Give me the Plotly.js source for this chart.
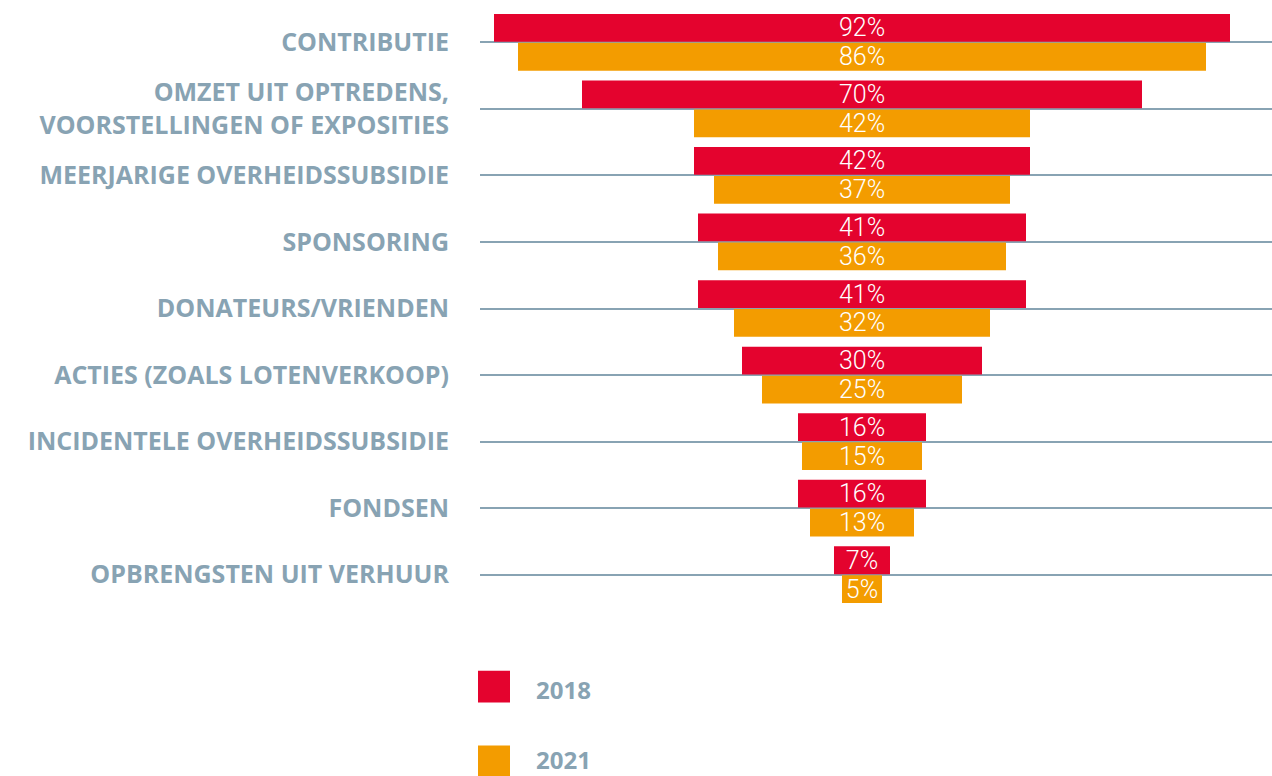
<!DOCTYPE html>
<html>
<head>
<meta charset="utf-8">
<script src="https://cdn.plot.ly/plotly-3.0.1.min.js"></script>
<style>html,body{margin:0;padding:0;background:#fff;}#chart{width:1272px;height:776px;}</style>
</head>
<body>
<div id="chart"></div>
<script>
const categories = [
  "CONTRIBUTIE",
  "OMZET UIT OPTREDENS,<br>VOORSTELLINGEN OF EXPOSITIES",
  "MEERJARIGE OVERHEIDSSUBSIDIE",
  "SPONSORING",
  "DONATEURS/VRIENDEN",
  "ACTIES (ZOALS LOTENVERKOOP)",
  "INCIDENTELE OVERHEIDSSUBSIDIE",
  "FONDSEN",
  "OPBRENGSTEN UIT VERHUUR"
];
const seriesNames = ["2018", "2021"];
const values2018 = [92, 70, 42, 41, 41, 30, 16, 16, 7];
const values2021 = [86, 42, 37, 36, 32, 25, 15, 13, 5];

const colors = ["#E4032E", "#F39C00"];
const grey = "#88A3B3";
const pctFont = {family: "Roboto, sans-serif", size: 25, color: "#ffffff", weight: 300};
const labelFont = {family: "Open Sans, sans-serif", size: 25, color: grey, weight: "bold"};

function makeTrace(vals, name, color) {
  return {
    type: "bar",
    orientation: "h",
    name: name,
    y: categories,
    x: vals,
    base: vals.map(v => -v / 2),
    text: vals.map(v => v + "%"),
    textposition: "inside",
    insidetextanchor: "middle",
    textangle: 0,
    constraintext: "none",
    textfont: pctFont,
    marker: {color: color, line: {width: 0}},
    hoverinfo: "skip",
    showlegend: false
  };
}

const traces = [
  makeTrace(values2018, seriesNames[0], colors[0]),
  makeTrace(values2021, seriesNames[1], colors[1])
];

const plotTop = 8.7, plotBottom = 608.3, plotH = plotBottom - plotTop;
const plotLeft = 480, plotW = 792;
function px(x) { return (x - plotLeft) / plotW; }
function py(y) { return (plotBottom - y) / plotH; }

const legendBoxes = [[671, 703], [746, 778]];
const legendTextY = [690, 760];
const shapes = legendBoxes.map((b, i) => ({
  type: "rect", xref: "paper", yref: "paper",
  x0: px(478), x1: px(510), y0: py(b[1]), y1: py(b[0]),
  fillcolor: colors[i], line: {width: 0}
}));
const annotations = legendBoxes.map((b, i) => ({
  xref: "paper", yref: "paper", x: px(534), y: py(legendTextY[i]),
  xanchor: "left", yanchor: "middle", showarrow: false,
  text: seriesNames[i],
  font: {family: "Open Sans, sans-serif", size: 24, color: grey, weight: "bold"}
}));

const layout = {
  width: 1272, height: 776,
  margin: {l: plotLeft, r: 0, t: plotTop, b: 776 - plotBottom, pad: 0},
  paper_bgcolor: "#ffffff", plot_bgcolor: "#ffffff",
  barmode: "group",
  bargap: 0.13,
  bargroupgap: 0.04,
  showlegend: false,
  xaxis: {range: [-47.75, 51.25], showgrid: false, zeroline: false, showticklabels: false, showline: false, fixedrange: true},
  yaxis: {
    type: "category", autorange: "reversed",
    showgrid: true, gridcolor: grey, gridwidth: 2,
    zeroline: false, showline: false, ticks: "",
    ticklabelstandoff: 30,
    tickfont: labelFont,
    layer: "below traces"
  },
  shapes: shapes,
  annotations: annotations
};

Plotly.newPlot("chart", traces, layout, {displayModeBar: false, staticPlot: true});
</script>
</body>
</html>
